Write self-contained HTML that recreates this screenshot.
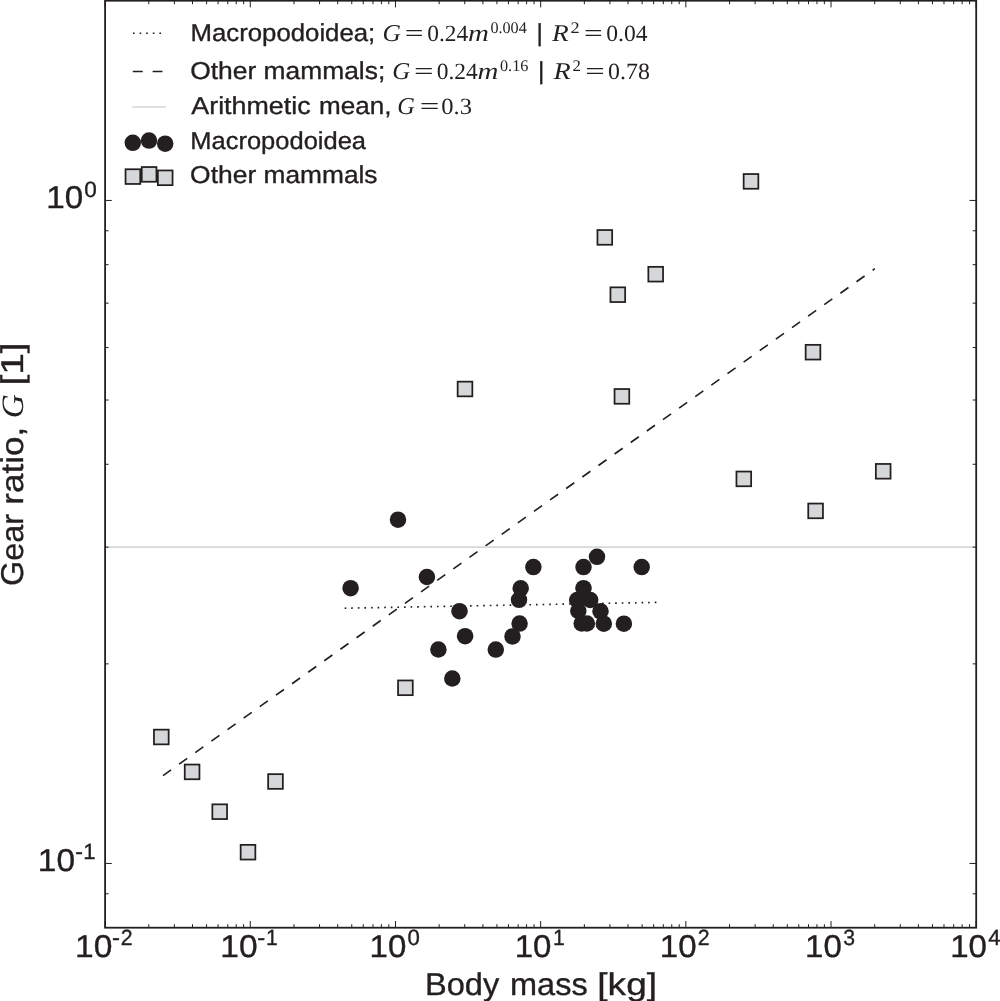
<!DOCTYPE html><html><head><meta charset="utf-8"><style>html,body{margin:0;padding:0;background:#fff;}body{width:1000px;height:1001px;overflow:hidden;}svg{display:block;will-change:transform;text-rendering:geometricPrecision;}</style></head><body><svg width="1000" height="1001" viewBox="0 0 1000 1001" fill="#231f20">
<line x1="344.6" y1="608.2" x2="656.5" y2="602.4" stroke="#231f20" stroke-width="1.65" stroke-dasharray="1.65 4.95"/>
<line x1="163.0" y1="775.6" x2="874.8" y2="268.7" stroke="#231f20" stroke-width="1.65" stroke-dasharray="9.9 9.9"/>
<rect x="153.95" y="729.65" width="14.7" height="14.7" fill="#d6d7d9" stroke="#231f20" stroke-width="1.75"/>
<rect x="184.75" y="764.55" width="14.7" height="14.7" fill="#d6d7d9" stroke="#231f20" stroke-width="1.75"/>
<rect x="268.15" y="774.15" width="14.7" height="14.7" fill="#d6d7d9" stroke="#231f20" stroke-width="1.75"/>
<rect x="212.35" y="804.35" width="14.7" height="14.7" fill="#d6d7d9" stroke="#231f20" stroke-width="1.75"/>
<rect x="240.65" y="844.85" width="14.7" height="14.7" fill="#d6d7d9" stroke="#231f20" stroke-width="1.75"/>
<rect x="398.05" y="680.45" width="14.7" height="14.7" fill="#d6d7d9" stroke="#231f20" stroke-width="1.75"/>
<rect x="457.65" y="381.65" width="14.7" height="14.7" fill="#d6d7d9" stroke="#231f20" stroke-width="1.75"/>
<rect x="597.45" y="230.05" width="14.7" height="14.7" fill="#d6d7d9" stroke="#231f20" stroke-width="1.75"/>
<rect x="648.35" y="266.85" width="14.7" height="14.7" fill="#d6d7d9" stroke="#231f20" stroke-width="1.75"/>
<rect x="610.45" y="287.35" width="14.7" height="14.7" fill="#d6d7d9" stroke="#231f20" stroke-width="1.75"/>
<rect x="614.55" y="389.05" width="14.7" height="14.7" fill="#d6d7d9" stroke="#231f20" stroke-width="1.75"/>
<rect x="743.65" y="174.05" width="14.7" height="14.7" fill="#d6d7d9" stroke="#231f20" stroke-width="1.75"/>
<rect x="805.65" y="344.85" width="14.7" height="14.7" fill="#d6d7d9" stroke="#231f20" stroke-width="1.75"/>
<rect x="736.45" y="471.55" width="14.7" height="14.7" fill="#d6d7d9" stroke="#231f20" stroke-width="1.75"/>
<rect x="808.25" y="503.55" width="14.7" height="14.7" fill="#d6d7d9" stroke="#231f20" stroke-width="1.75"/>
<rect x="875.85" y="463.95" width="14.7" height="14.7" fill="#d6d7d9" stroke="#231f20" stroke-width="1.75"/>
<circle cx="398.0" cy="519.7" r="8.25"/>
<circle cx="350.6" cy="588.2" r="8.25"/>
<circle cx="426.9" cy="577.0" r="8.25"/>
<circle cx="459.5" cy="611.2" r="8.25"/>
<circle cx="465.1" cy="636.2" r="8.25"/>
<circle cx="438.4" cy="649.5" r="8.25"/>
<circle cx="452.3" cy="678.5" r="8.25"/>
<circle cx="495.8" cy="649.6" r="8.25"/>
<circle cx="512.5" cy="636.4" r="8.25"/>
<circle cx="519.6" cy="623.6" r="8.25"/>
<circle cx="519.0" cy="599.8" r="8.25"/>
<circle cx="520.7" cy="588.3" r="8.25"/>
<circle cx="533.4" cy="567.1" r="8.25"/>
<circle cx="583.5" cy="567.1" r="8.25"/>
<circle cx="597.0" cy="556.8" r="8.25"/>
<circle cx="641.7" cy="567.1" r="8.25"/>
<circle cx="583.5" cy="588.2" r="8.25"/>
<circle cx="577.2" cy="600.0" r="8.25"/>
<circle cx="590.2" cy="600.0" r="8.25"/>
<circle cx="578.3" cy="611.0" r="8.25"/>
<circle cx="600.5" cy="611.3" r="8.25"/>
<circle cx="581.7" cy="623.5" r="8.25"/>
<circle cx="586.9" cy="623.5" r="8.25"/>
<circle cx="603.8" cy="623.7" r="8.25"/>
<circle cx="623.9" cy="623.7" r="8.25"/>
<line x1="105.1" y1="547.12" x2="976.2" y2="547.12" stroke="#d6d7d9" stroke-width="1.7"/>
<rect x="105.1" y="0.7" width="871.10" height="927.00" fill="none" stroke="#231f20" stroke-width="1.8"/>
<path d="M105.10 927.70v-6.7M105.10 0.70v6.7M148.80 927.70v-3.5M148.80 0.70v3.5M174.37 927.70v-3.5M174.37 0.70v3.5M192.51 927.70v-3.5M192.51 0.70v3.5M206.58 927.70v-3.5M206.58 0.70v3.5M218.07 927.70v-3.5M218.07 0.70v3.5M227.79 927.70v-3.5M227.79 0.70v3.5M236.21 927.70v-3.5M236.21 0.70v3.5M243.64 927.70v-3.5M243.64 0.70v3.5M250.28 927.70v-6.7M250.28 0.70v6.7M293.99 927.70v-3.5M293.99 0.70v3.5M319.55 927.70v-3.5M319.55 0.70v3.5M337.69 927.70v-3.5M337.69 0.70v3.5M351.76 927.70v-3.5M351.76 0.70v3.5M363.26 927.70v-3.5M363.26 0.70v3.5M372.98 927.70v-3.5M372.98 0.70v3.5M381.40 927.70v-3.5M381.40 0.70v3.5M388.82 927.70v-3.5M388.82 0.70v3.5M395.47 927.70v-6.7M395.47 0.70v6.7M439.17 927.70v-3.5M439.17 0.70v3.5M464.74 927.70v-3.5M464.74 0.70v3.5M482.88 927.70v-3.5M482.88 0.70v3.5M496.95 927.70v-3.5M496.95 0.70v3.5M508.44 927.70v-3.5M508.44 0.70v3.5M518.16 927.70v-3.5M518.16 0.70v3.5M526.58 927.70v-3.5M526.58 0.70v3.5M534.01 927.70v-3.5M534.01 0.70v3.5M540.65 927.70v-6.7M540.65 0.70v6.7M584.35 927.70v-3.5M584.35 0.70v3.5M609.92 927.70v-3.5M609.92 0.70v3.5M628.06 927.70v-3.5M628.06 0.70v3.5M642.13 927.70v-3.5M642.13 0.70v3.5M653.62 927.70v-3.5M653.62 0.70v3.5M663.34 927.70v-3.5M663.34 0.70v3.5M671.76 927.70v-3.5M671.76 0.70v3.5M679.19 927.70v-3.5M679.19 0.70v3.5M685.83 927.70v-6.7M685.83 0.70v6.7M729.54 927.70v-3.5M729.54 0.70v3.5M755.10 927.70v-3.5M755.10 0.70v3.5M773.24 927.70v-3.5M773.24 0.70v3.5M787.31 927.70v-3.5M787.31 0.70v3.5M798.81 927.70v-3.5M798.81 0.70v3.5M808.53 927.70v-3.5M808.53 0.70v3.5M816.95 927.70v-3.5M816.95 0.70v3.5M824.37 927.70v-3.5M824.37 0.70v3.5M831.02 927.70v-6.7M831.02 0.70v6.7M874.72 927.70v-3.5M874.72 0.70v3.5M900.29 927.70v-3.5M900.29 0.70v3.5M918.43 927.70v-3.5M918.43 0.70v3.5M932.50 927.70v-3.5M932.50 0.70v3.5M943.99 927.70v-3.5M943.99 0.70v3.5M953.71 927.70v-3.5M953.71 0.70v3.5M962.13 927.70v-3.5M962.13 0.70v3.5M969.56 927.70v-3.5M969.56 0.70v3.5M976.20 927.70v-6.7M976.20 0.70v6.7M105.10 200.45h6.7M976.20 200.45h-6.7M105.10 863.45h6.7M976.20 863.45h-6.7M105.10 893.79h3.5M976.20 893.79h-3.5M105.10 663.87h3.5M976.20 663.87h-3.5M105.10 547.12h3.5M976.20 547.12h-3.5M105.10 464.28h3.5M976.20 464.28h-3.5M105.10 400.03h3.5M976.20 400.03h-3.5M105.10 347.54h3.5M976.20 347.54h-3.5M105.10 303.15h3.5M976.20 303.15h-3.5M105.10 264.70h3.5M976.20 264.70h-3.5M105.10 230.79h3.5M976.20 230.79h-3.5" stroke="#231f20" stroke-width="1.0" fill="none"/>
<text x="75.08" y="956.60" font-family='"Liberation Sans", sans-serif' font-size="31.49" stroke="#231f20" stroke-width="0.35" textLength="37.36" lengthAdjust="spacingAndGlyphs">10</text>
<text x="112.12" y="945.30" font-family='"Liberation Sans", sans-serif' font-size="22.04" stroke="#231f20" stroke-width="0.35" textLength="7.96" lengthAdjust="spacingAndGlyphs">-</text>
<text x="120.66" y="945.30" font-family='"Liberation Sans", sans-serif' font-size="22.04" stroke="#231f20" stroke-width="0.35" textLength="11.87" lengthAdjust="spacingAndGlyphs">2</text>
<text x="220.26" y="956.60" font-family='"Liberation Sans", sans-serif' font-size="31.49" stroke="#231f20" stroke-width="0.35" textLength="37.36" lengthAdjust="spacingAndGlyphs">10</text>
<text x="257.31" y="945.30" font-family='"Liberation Sans", sans-serif' font-size="22.04" stroke="#231f20" stroke-width="0.35" textLength="7.96" lengthAdjust="spacingAndGlyphs">-</text>
<text x="266.11" y="945.30" font-family='"Liberation Sans", sans-serif' font-size="22.04" stroke="#231f20" stroke-width="0.35" textLength="11.75" lengthAdjust="spacingAndGlyphs">1</text>
<text x="369.49" y="956.60" font-family='"Liberation Sans", sans-serif' font-size="31.49" stroke="#231f20" stroke-width="0.35" textLength="36.80" lengthAdjust="spacingAndGlyphs">10</text>
<text x="407.44" y="945.30" font-family='"Liberation Sans", sans-serif' font-size="22.04" stroke="#231f20" stroke-width="0.35" textLength="12.35" lengthAdjust="spacingAndGlyphs">0</text>
<text x="514.67" y="956.60" font-family='"Liberation Sans", sans-serif' font-size="31.49" stroke="#231f20" stroke-width="0.35" textLength="36.80" lengthAdjust="spacingAndGlyphs">10</text>
<text x="552.88" y="945.30" font-family='"Liberation Sans", sans-serif' font-size="22.04" stroke="#231f20" stroke-width="0.35" textLength="11.75" lengthAdjust="spacingAndGlyphs">1</text>
<text x="659.85" y="956.60" font-family='"Liberation Sans", sans-serif' font-size="31.49" stroke="#231f20" stroke-width="0.35" textLength="36.80" lengthAdjust="spacingAndGlyphs">10</text>
<text x="697.79" y="945.30" font-family='"Liberation Sans", sans-serif' font-size="22.04" stroke="#231f20" stroke-width="0.35" textLength="11.87" lengthAdjust="spacingAndGlyphs">2</text>
<text x="805.04" y="956.60" font-family='"Liberation Sans", sans-serif' font-size="31.49" stroke="#231f20" stroke-width="0.35" textLength="36.80" lengthAdjust="spacingAndGlyphs">10</text>
<text x="843.30" y="945.30" font-family='"Liberation Sans", sans-serif' font-size="22.04" stroke="#231f20" stroke-width="0.35" textLength="11.80" lengthAdjust="spacingAndGlyphs">3</text>
<text x="950.22" y="956.60" font-family='"Liberation Sans", sans-serif' font-size="31.49" stroke="#231f20" stroke-width="0.35" textLength="36.80" lengthAdjust="spacingAndGlyphs">10</text>
<text x="988.25" y="945.30" font-family='"Liberation Sans", sans-serif' font-size="22.04" stroke="#231f20" stroke-width="0.35" textLength="12.26" lengthAdjust="spacingAndGlyphs">4</text>
<text x="46.30" y="208.00" font-family='"Liberation Sans", sans-serif' font-size="31.49" stroke="#231f20" stroke-width="0.35" textLength="37.02" lengthAdjust="spacingAndGlyphs">10</text>
<text x="84.30" y="197.20" font-family='"Liberation Sans", sans-serif' font-size="22.04" stroke="#231f20" stroke-width="0.35" textLength="12.58" lengthAdjust="spacingAndGlyphs">0</text>
<text x="37.89" y="870.60" font-family='"Liberation Sans", sans-serif' font-size="31.49" stroke="#231f20" stroke-width="0.35" textLength="37.25" lengthAdjust="spacingAndGlyphs">10</text>
<text x="75.36" y="859.30" font-family='"Liberation Sans", sans-serif' font-size="22.04" stroke="#231f20" stroke-width="0.35" textLength="7.69" lengthAdjust="spacingAndGlyphs">-</text>
<text x="83.34" y="859.30" font-family='"Liberation Sans", sans-serif' font-size="22.04" stroke="#231f20" stroke-width="0.35" textLength="12.35" lengthAdjust="spacingAndGlyphs">1</text>
<text x="425.01" y="994.80" font-family='"Liberation Sans", sans-serif' font-size="31.49" stroke="#231f20" stroke-width="0.35" textLength="74.26" lengthAdjust="spacingAndGlyphs">Body</text>
<text x="510.07" y="994.80" font-family='"Liberation Sans", sans-serif' font-size="31.49" stroke="#231f20" stroke-width="0.35" textLength="77.58" lengthAdjust="spacingAndGlyphs">mass</text>
<text x="597.33" y="994.80" font-family='"Liberation Sans", sans-serif' font-size="31.49" stroke="#231f20" stroke-width="0.35" textLength="59.69" lengthAdjust="spacingAndGlyphs">[kg]</text>
<g transform="translate(23,0) rotate(-90)">
<text x="-586.12" y="0.00" font-family='"Liberation Sans", sans-serif' font-size="31.49" stroke="#231f20" stroke-width="0.35" textLength="72.14" lengthAdjust="spacingAndGlyphs">Gear</text>
<text x="-504.69" y="0.00" font-family='"Liberation Sans", sans-serif' font-size="31.49" stroke="#231f20" stroke-width="0.35" textLength="77.85" lengthAdjust="spacingAndGlyphs">ratio,</text>
<text x="-418.33" y="0.00" font-family='"Liberation Serif", serif' font-size="31.00" font-style="italic" textLength="24.07" lengthAdjust="spacingAndGlyphs">G</text>
<text x="-385.63" y="0.00" font-family='"Liberation Sans", sans-serif' font-size="31.49" stroke="#231f20" stroke-width="0.35" textLength="43.33" lengthAdjust="spacingAndGlyphs">[1]</text>
</g>
<text x="190.47" y="41.00" font-family='"Liberation Sans", sans-serif' font-size="24.49" stroke="#231f20" stroke-width="0.35" textLength="184.82" lengthAdjust="spacingAndGlyphs">Macropodoidea;</text>
<text x="382.59" y="41.00" font-family='"Liberation Serif", serif' font-size="24.00" font-style="italic" textLength="18.47" lengthAdjust="spacingAndGlyphs">G</text>
<text x="404.73" y="41.00" font-family='"Liberation Serif", serif' font-size="24.00" textLength="18.80" lengthAdjust="spacingAndGlyphs">=</text>
<text x="427.22" y="41.00" font-family='"Liberation Serif", serif' font-size="23.20" textLength="40.93" lengthAdjust="spacingAndGlyphs">0.24</text>
<text x="467.91" y="41.00" font-family='"Liberation Serif", serif' font-size="24.00" font-style="italic" textLength="20.91" lengthAdjust="spacingAndGlyphs">m</text>
<text x="490.39" y="32.90" font-family='"Liberation Serif", serif' font-size="16.20" textLength="36.35" lengthAdjust="spacingAndGlyphs">0.004</text>
<text x="536.52" y="41.30" font-family='"Liberation Sans", sans-serif' font-size="24.49" stroke="#231f20" stroke-width="0.35" textLength="6.36" lengthAdjust="spacingAndGlyphs">|</text>
<text x="552.14" y="41.00" font-family='"Liberation Serif", serif' font-size="24.00" font-style="italic" textLength="16.70" lengthAdjust="spacingAndGlyphs">R</text>
<text x="570.48" y="33.30" font-family='"Liberation Serif", serif' font-size="16.20" textLength="9.13" lengthAdjust="spacingAndGlyphs">2</text>
<text x="584.14" y="41.00" font-family='"Liberation Serif", serif' font-size="24.00" textLength="18.68" lengthAdjust="spacingAndGlyphs">=</text>
<text x="606.21" y="41.00" font-family='"Liberation Serif", serif' font-size="23.20" textLength="41.34" lengthAdjust="spacingAndGlyphs">0.04</text>
<text x="190.15" y="79.10" font-family='"Liberation Sans", sans-serif' font-size="24.49" stroke="#231f20" stroke-width="0.35" textLength="66.08" lengthAdjust="spacingAndGlyphs">Other</text>
<text x="263.50" y="79.10" font-family='"Liberation Sans", sans-serif' font-size="24.49" stroke="#231f20" stroke-width="0.35" textLength="121.71" lengthAdjust="spacingAndGlyphs">mammals;</text>
<text x="392.33" y="79.10" font-family='"Liberation Serif", serif' font-size="24.00" font-style="italic" textLength="18.03" lengthAdjust="spacingAndGlyphs">G</text>
<text x="413.97" y="79.10" font-family='"Liberation Serif", serif' font-size="24.00" textLength="19.53" lengthAdjust="spacingAndGlyphs">=</text>
<text x="436.72" y="79.10" font-family='"Liberation Serif", serif' font-size="23.20" textLength="41.13" lengthAdjust="spacingAndGlyphs">0.24</text>
<text x="477.61" y="79.10" font-family='"Liberation Serif", serif' font-size="24.00" font-style="italic" textLength="20.91" lengthAdjust="spacingAndGlyphs">m</text>
<text x="499.99" y="70.60" font-family='"Liberation Serif", serif' font-size="16.20" textLength="28.40" lengthAdjust="spacingAndGlyphs">0.16</text>
<text x="538.07" y="79.20" font-family='"Liberation Sans", sans-serif' font-size="24.49" stroke="#231f20" stroke-width="0.35" textLength="6.36" lengthAdjust="spacingAndGlyphs">|</text>
<text x="553.44" y="79.10" font-family='"Liberation Serif", serif' font-size="24.00" font-style="italic" textLength="17.21" lengthAdjust="spacingAndGlyphs">R</text>
<text x="572.55" y="70.60" font-family='"Liberation Serif", serif' font-size="16.20" textLength="8.38" lengthAdjust="spacingAndGlyphs">2</text>
<text x="585.27" y="79.10" font-family='"Liberation Serif", serif' font-size="24.00" textLength="19.53" lengthAdjust="spacingAndGlyphs">=</text>
<text x="608.10" y="79.10" font-family='"Liberation Serif", serif' font-size="23.20" textLength="41.79" lengthAdjust="spacingAndGlyphs">0.78</text>
<text x="191.33" y="114.30" font-family='"Liberation Sans", sans-serif' font-size="24.49" stroke="#231f20" stroke-width="0.35" textLength="119.26" lengthAdjust="spacingAndGlyphs">Arithmetic</text>
<text x="318.95" y="114.30" font-family='"Liberation Sans", sans-serif' font-size="24.49" stroke="#231f20" stroke-width="0.35" textLength="72.45" lengthAdjust="spacingAndGlyphs">mean,</text>
<text x="397.26" y="114.30" font-family='"Liberation Serif", serif' font-size="24.00" font-style="italic" textLength="17.58" lengthAdjust="spacingAndGlyphs">G</text>
<text x="419.76" y="114.30" font-family='"Liberation Serif", serif' font-size="24.00" textLength="19.65" lengthAdjust="spacingAndGlyphs">=</text>
<text x="441.28" y="114.30" font-family='"Liberation Serif", serif' font-size="23.20" textLength="30.70" lengthAdjust="spacingAndGlyphs">0.3</text>
<text x="190.30" y="149.00" font-family='"Liberation Sans", sans-serif' font-size="24.49" stroke="#231f20" stroke-width="0.35" textLength="175.73" lengthAdjust="spacingAndGlyphs">Macropodoidea</text>
<text x="190.14" y="182.70" font-family='"Liberation Sans", sans-serif' font-size="24.49" stroke="#231f20" stroke-width="0.35" textLength="66.09" lengthAdjust="spacingAndGlyphs">Other</text>
<text x="263.52" y="182.70" font-family='"Liberation Sans", sans-serif' font-size="24.49" stroke="#231f20" stroke-width="0.35" textLength="114.02" lengthAdjust="spacingAndGlyphs">mammals</text>
<line x1="133.0" y1="33.2" x2="165.9" y2="33.2" stroke="#231f20" stroke-width="1.65" stroke-dasharray="1.65 4.95"/>
<line x1="132.8" y1="71.5" x2="166" y2="71.5" stroke="#231f20" stroke-width="1.65" stroke-dasharray="9.9 9.9"/>
<line x1="132.2" y1="107" x2="166" y2="107" stroke="#d6d7d9" stroke-width="1.7"/>
<circle cx="132.8" cy="142.8" r="8.25"/>
<circle cx="149.0" cy="140.6" r="8.25"/>
<circle cx="165.2" cy="143.7" r="8.25"/>
<rect x="125.55" y="169.25" width="14.7" height="14.7" fill="#d6d7d9" stroke="#231f20" stroke-width="1.75"/>
<rect x="141.75" y="167.05" width="14.7" height="14.7" fill="#d6d7d9" stroke="#231f20" stroke-width="1.75"/>
<rect x="157.85" y="170.45" width="14.7" height="14.7" fill="#d6d7d9" stroke="#231f20" stroke-width="1.75"/>
</svg></body></html>
